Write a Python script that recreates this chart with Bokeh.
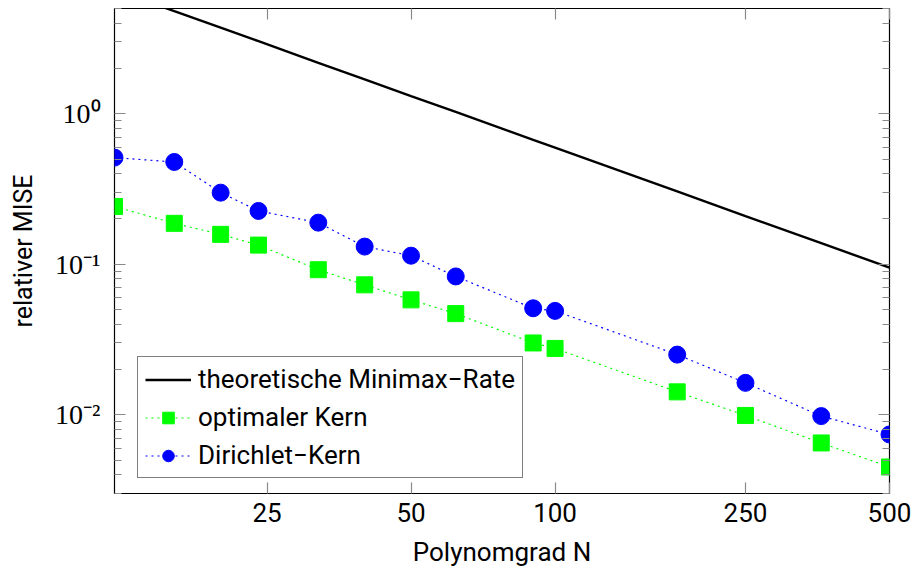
from bokeh.plotting import figure
from bokeh.models import (LogAxis, FixedTicker, CustomJSTickFormatter, Legend,
                          LegendItem, Label, ColumnDataSource, GlyphRenderer)
from bokeh.embed import file_html
from bokeh.resources import INLINE

# ---- data ----
N = [12, 16, 20, 24, 32, 40, 50, 62, 90, 100, 180, 250, 360, 500]
minimax_rate = [6.67, 4.80, 3.73, 3.03, 2.18, 1.69, 1.31, 1.03, 0.671, 0.595,
                0.305, 0.209, 0.138, 0.095]
optimal_kernel = [0.242, 0.187, 0.158, 0.134, 0.092, 0.073, 0.058, 0.047,
                  0.030, 0.0276, 0.0142, 0.0099, 0.0065, 0.0045]
dirichlet_kernel = [0.511, 0.478, 0.299, 0.226, 0.189, 0.131, 0.114, 0.083,
                    0.051, 0.049, 0.0251, 0.0163, 0.0098, 0.0074]
x_ticks = [25, 50, 100, 250, 500]
y_ticks = [0.01, 0.1, 1]
y_tick_exponents = ["\u22122", "\u22121", "0"]
labels = ["theoretische Minimax\u2212Rate", "optimaler Kern", "Dirichlet\u2212Kern"]
x_min, x_max = 12, 500
y_min, y_max = 0.003, 5

SANS = "Roboto"
SERIF = "Liberation Serif"

label_can_unclip = "clip" in Label.properties()
glyph_can_unclip = "clip" in GlyphRenderer.properties()

src = ColumnDataSource(dict(N=N, mm=minimax_rate, opt=optimal_kernel, dir=dirichlet_kernel))

p = figure(width=912, height=570, x_axis_type="log", y_axis_type="log",
           x_range=(x_min, x_max), y_range=(y_min, y_max),
           output_backend="svg", toolbar_location=None,
           min_border_left=114, min_border_right=23, min_border_top=8,
           min_border_bottom=77)
p.background_fill_color = "white"
p.border_fill_color = "white"
p.xgrid.visible = False
p.ygrid.visible = False
p.outline_line_color = "black"
p.outline_line_width = 1.2

minor_y = [m * d for d in (0.001, 0.01, 0.1, 1) for m in range(2, 10) if y_min <= m * d <= y_max]
blank = CustomJSTickFormatter(code="return '';")
sup_fmt = CustomJSTickFormatter(code="""
const e = Math.round(Math.log10(tick));
const sup = {'0':'\u2070','1':'\u00b9','2':'\u00b2','3':'\u00b3','-':'\u207b'};
return '10' + String(e).split('').map(c => sup[c]).join('');
""")

def style_axis(ax, ticker):
    ax.ticker = ticker
    ax.axis_line_color = None
    ax.major_tick_in = 11
    ax.major_tick_out = 0
    ax.minor_tick_in = 7
    ax.minor_tick_out = 0
    ax.major_tick_line_color = "#8a8a8a"
    ax.minor_tick_line_color = "#8a8a8a"
    ax.major_tick_line_width = 1.2
    ax.minor_tick_line_width = 1.2

xa = p.xaxis[0]
style_axis(xa, FixedTicker(ticks=x_ticks, minor_ticks=[]))
xa.major_label_text_font = SANS
xa.major_label_text_font_size = "26px"
xa.major_label_text_color = "black"
xa.major_label_standoff = 9

ya = p.yaxis[0]
style_axis(ya, FixedTicker(ticks=y_ticks, minor_ticks=minor_y))
ya.axis_label = "relativer MISE"
ya.axis_label_text_font = SANS
ya.axis_label_text_font_size = "25px"
ya.axis_label_text_font_style = "normal"
ya.axis_label_text_color = "black"

top = LogAxis(formatter=blank, major_label_standoff=0)
style_axis(top, FixedTicker(ticks=x_ticks, minor_ticks=[]))
p.add_layout(top, "above")
right = LogAxis(formatter=blank, major_label_standoff=0)
style_axis(right, FixedTicker(ticks=y_ticks, minor_ticks=minor_y))
p.add_layout(right, "right")

r_mm = p.line("N", "mm", source=src, line_color="black", line_width=2.4)
l_opt = p.line("N", "opt", source=src, line_color="#00ff00", line_width=1.2, line_dash="2 4")
s_opt = p.scatter("N", "opt", source=src, marker="square", size=16,
                  fill_color="#00ff00", line_color="#00ff00")
l_dir = p.line("N", "dir", source=src, line_color="#0000ff", line_width=1.2, line_dash="2 4")
s_dir = p.scatter("N", "dir", source=src, marker="circle", size=17,
                  fill_color="#0000ff", line_color="#0000ff")
if glyph_can_unclip:
    s_opt.clip = False
    s_dir.clip = False

if label_can_unclip:
    ya.formatter = blank
    ya.major_label_standoff = 0
    ya.axis_label_standoff = 80
    for t, e in zip(y_ticks, y_tick_exponents):
        ew = 13 if len(e) == 1 else 26
        p.add_layout(Label(x=x_min, y=t, x_offset=-14, y_offset=4, text=e,
                           text_align="right", text_baseline="middle", clip=False,
                           text_font=SERIF, text_font_size="19px", text_color="black"))
        p.add_layout(Label(x=x_min, y=t, x_offset=-16 - ew, y_offset=-4, text="10",
                           text_align="right", text_baseline="middle", clip=False,
                           text_font=SERIF, text_font_size="28px", text_color="black"))
    p.add_layout(Label(x=100, y=y_min, x_offset=7, y_offset=-70, text="Polynomgrad",
                       text_align="right", text_baseline="alphabetic", clip=False,
                       text_font=SANS, text_font_size="26px", text_color="black"))
    p.add_layout(Label(x=100, y=y_min, x_offset=12, y_offset=-70, text="N",
                       text_align="left", text_baseline="alphabetic", clip=False,
                       text_font=SERIF, text_font_style="italic",
                       text_font_size="28px", text_color="black"))
else:
    ya.formatter = sup_fmt
    ya.major_label_text_font = SERIF
    ya.major_label_text_font_size = "28px"
    ya.major_label_text_color = "black"
    ya.major_label_standoff = 14
    ya.axis_label_standoff = 14
    xa.axis_label = "Polynomgrad N"
    xa.axis_label_text_font = SANS
    xa.axis_label_text_font_size = "26px"
    xa.axis_label_text_font_style = "normal"
    xa.axis_label_text_color = "black"
    xa.axis_label_standoff = 12

legend = Legend(items=[LegendItem(label=labels[0], renderers=[r_mm]),
                       LegendItem(label=labels[1], renderers=[l_opt, s_opt]),
                       LegendItem(label=labels[2], renderers=[l_dir, s_dir])],
                location=(23, 15))
legend.label_text_font = SANS
legend.label_text_font_size = "26px"
legend.label_text_color = "black"
legend.glyph_width = 46
legend.glyph_height = 29
legend.label_height = 29
legend.label_standoff = 7
legend.spacing = 8
legend.padding = 7
legend.border_line_color = "black"
legend.border_line_width = 1.2
legend.background_fill_alpha = 1.0
p.add_layout(legend, "center")

open("out.html", "w").write(file_html(p, INLINE))
